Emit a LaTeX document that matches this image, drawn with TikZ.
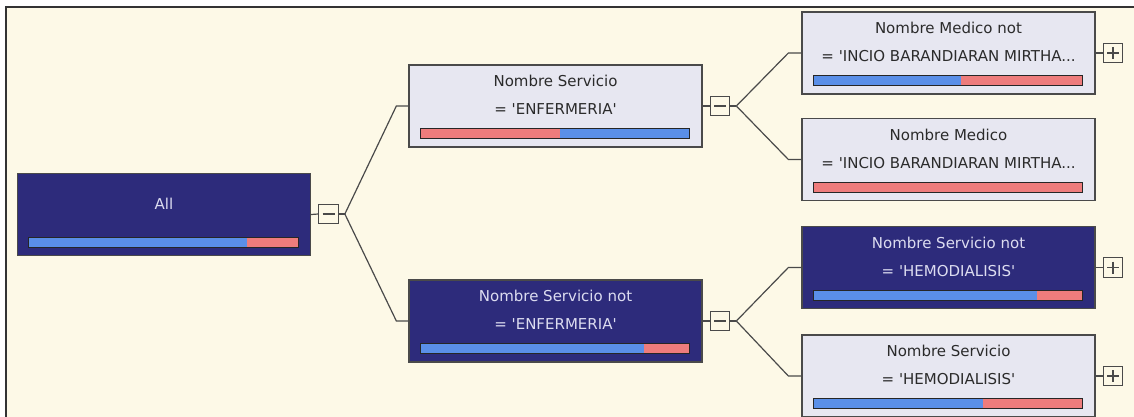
\documentclass[tikz,border=0pt]{standalone}
\usepackage{fontspec}
\setmainfont{DejaVu Sans}
\usetikzlibrary{calc}
\definecolor{paper}{HTML}{FDF9E7}
\definecolor{navy}{HTML}{2D2B7B}
\definecolor{pale}{HTML}{E7E7F1}
\definecolor{edge}{HTML}{4A4A4A}
\definecolor{barblue}{HTML}{5A8FE8}
\definecolor{barred}{HTML}{EE7C7C}
\definecolor{inktxt}{HTML}{2B2B2B}
\definecolor{lighttxt}{HTML}{DCDCF0}

% straight apostrophe
\newcommand\sq{\textquotesingle}

% split bar inside a node: name, fraction, left colour, right colour
\newcommand\splitbar[4]{%
  \coordinate (#1-bl) at ($(#1.south west)+(12,-9)$);
  \coordinate (#1-br) at ($(#1.south east)+(-13,-9)$);
  \coordinate (#1-tr) at ($(#1.south east)+(-13,-19)$);
  \coordinate (#1-cut) at ($(#1-bl)!#2!(#1-br)$);
  \fill[#3] (#1-bl) rectangle (#1-cut |- #1-tr);
  \fill[#4] (#1-cut) rectangle (#1-tr);
  \draw[barline] (#1-bl) rectangle (#1-tr);
}

\begin{document}
\begin{tikzpicture}[x=1pt,y=-1pt,
  box/.style={rectangle,draw=edge,line width=1.3pt,inner sep=0pt,
    minimum width=293pt,minimum height=82pt},
  darkbox/.style={box,fill=navy},
  palebox/.style={box,fill=pale},
  txt/.style={align=center,inner sep=0pt,font=\fontsize{15}{28}\selectfont},
  darktxt/.style={txt,text=lighttxt},
  paletxt/.style={txt,text=inktxt},
  barline/.style={draw=black!85,line width=1.2pt},
  toggle/.style={rectangle,draw=edge,line width=1.2pt,fill=paper,
    minimum size=19.5pt,inner sep=0pt},
  sign/.style={draw=edge,line width=1.2pt},
  link/.style={draw=edge,line width=1.2pt},
  frame/.style={draw=black!80,line width=1.5pt}]

\useasboundingbox (0,0) rectangle (1134,417);
\fill[white] (0,0) rectangle (1134,417);
\fill[paper] (6,7) rectangle (1134,417);
\draw[frame] (6,417) -- (6,7) -- (1134,7);

% tree nodes
\node[darkbox] (all) at (164,214.5) {};
\node[palebox] (ns)  at (555.5,106) {};
\node[darkbox] (nsn) at (555.5,321) {};
\node[palebox] (mn)  at (948.5,53) {};
\node[palebox] (md)  at (948.5,159.5) {};
\node[darkbox] (hn)  at (948.5,267.5) {};
\node[palebox] (hd)  at (948.5,376) {};

% node captions
\node[darktxt] (all-t) at ($(all.center)+(0,-11)$) {All};
\node[paletxt] (ns-t)  at ($(ns.center)+(0,-11)$) {Nombre Servicio\\= \sq ENFERMERIA\sq};
\node[darktxt] (nsn-t) at ($(nsn.center)+(0,-11)$) {Nombre Servicio not\\= \sq ENFERMERIA\sq};
\node[paletxt] (mn-t)  at ($(mn.center)+(0,-11)$) {Nombre Medico not\\= \sq INCIO BARANDIARAN MIRTHA...};
\node[paletxt] (md-t)  at ($(md.center)+(0,-11)$) {Nombre Medico\\= \sq INCIO BARANDIARAN MIRTHA...};
\node[darktxt] (hn-t)  at ($(hn.center)+(0,-11)$) {Nombre Servicio not\\= \sq HEMODIALISIS\sq};
\node[paletxt] (hd-t)  at ($(hd.center)+(0,-11)$) {Nombre Servicio\\= \sq HEMODIALISIS\sq};

% distribution bars
\splitbar{all}{0.81}{barblue}{barred}
\splitbar{ns}{0.52}{barred}{barblue}
\splitbar{nsn}{0.83}{barblue}{barred}
\splitbar{mn}{0.55}{barblue}{barred}
\splitbar{md}{1}{barred}{barred}
\splitbar{hn}{0.83}{barblue}{barred}
\splitbar{hd}{0.63}{barblue}{barred}

% expand / collapse toggles
\node[toggle] (c1) at (328.5,214) {};
\node[toggle] (c2) at (720,106) {};
\node[toggle] (c3) at (720,321) {};
\node[toggle] (p1) at (1113,53) {};
\node[toggle] (p2) at (1113,267.5) {};
\node[toggle] (p3) at (1113,376) {};
\foreach \t in {c1,c2,c3,p1,p2,p3}
  \draw[sign] ($(\t.center)+(-6,0)$) -- ($(\t.center)+(6,0)$);
\foreach \t in {p1,p2,p3}
  \draw[sign] ($(\t.center)+(0,-6)$) -- ($(\t.center)+(0,6)$);

% connectors
\draw[link] (all.east) -- (c1.west);
\draw[link] (ns.east) -- (c2.west);
\draw[link] (nsn.east) -- (c3.west);
\draw[link] (mn.east) -- (p1.west);
\draw[link] (hn.east) -- (p2.west);
\draw[link] (hd.east) -- (p3.west);

\draw[link] (c1.east) -- ++(6,0) coordinate (s1);
\draw[link] (s1) -- ([xshift=-12pt]ns.west) -- (ns.west);
\draw[link] (s1) -- ([xshift=-12pt]nsn.west) -- (nsn.west);

\draw[link] (c2.east) -- ++(6,0) coordinate (s2);
\draw[link] (s2) -- ([xshift=-13pt]mn.west) -- (mn.west);
\draw[link] (s2) -- ([xshift=-13pt]md.west) -- (md.west);

\draw[link] (c3.east) -- ++(6,0) coordinate (s3);
\draw[link] (s3) -- ([xshift=-13pt]hn.west) -- (hn.west);
\draw[link] (s3) -- ([xshift=-13pt]hd.west) -- (hd.west);
\end{tikzpicture}
\end{document}
